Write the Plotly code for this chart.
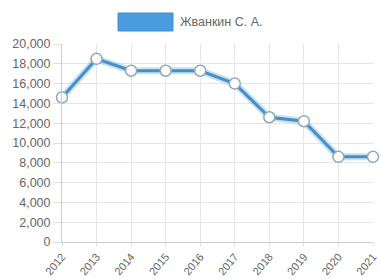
import plotly.graph_objects as go

years = [2012, 2013, 2014, 2015, 2016, 2017, 2018, 2019, 2020, 2021]
values = [14600, 18500, 17300, 17300, 17300, 16000, 12600, 12200, 8600, 8600]
series_name = "Жванкин С. А."
y_ticks = list(range(0, 20001, 2000))

fig = go.Figure()
# soft glow under the line
fig.add_trace(go.Scatter(x=years, y=values, mode="lines",
                         line=dict(color="rgba(120,190,235,0.45)", width=7),
                         hoverinfo="skip", showlegend=False, cliponaxis=False))
fig.add_trace(go.Scatter(x=years, y=values, mode="lines+markers", name=series_name,
                         line=dict(color="#4a8ec2", width=3),
                         marker=dict(size=11, color="white",
                                     line=dict(color="#8fa9b8", width=1.5)),
                         showlegend=False, cliponaxis=False))

font = "Liberation Sans, Arial, sans-serif"
L, R = 62, 7
PW = 380 - L - R
fig.update_layout(
    width=380, height=279,
    margin=dict(l=L, r=R, t=44, b=37),
    paper_bgcolor="white", plot_bgcolor="white",
    font=dict(family=font, size=12, color="#666666"),
    showlegend=False,
)
fig.update_xaxes(
    type="linear", range=[years[0] - 1e-6, years[-1] + 1e-6], tickvals=years,
    ticktext=[str(y) for y in years], tickangle=-50,
    showgrid=True, gridcolor="#e6e6e6", gridwidth=1,
    zeroline=False, showline=True, linecolor="#cccccc",
    ticks="outside", ticklen=3, tickcolor="#e0e0e0",
    ticklabeloverflow="allow",
    tickfont=dict(size=11, color="#666666"), automargin=False,
)
fig.update_yaxes(
    range=[0, 20000], tickvals=y_ticks,
    ticktext=[f"{v:,}" for v in y_ticks],
    showgrid=True, gridcolor="#e6e6e6", gridwidth=1,
    zeroline=False, showline=True, linecolor="#cccccc",
    ticks="outside", ticklen=8, tickcolor="#e0e0e0",
    tickfont=dict(size=12.5, color="#666666"), automargin=False,
)
# legend box + label
fig.add_shape(type="rect", xref="paper", yref="paper",
              x0=(118 - L) / PW, x1=(173 - L) / PW,
              y0=(242 - 31) / 198, y1=(242 - 13) / 198,
              fillcolor="#4a9de0", line=dict(color="#3f8fd0", width=1))
fig.add_annotation(text=series_name, xref="paper", yref="paper",
                   x=(178 - L) / PW, y=(242 - 22) / 198,
                   xanchor="left", yanchor="middle", showarrow=False,
                   font=dict(size=12.5, color="#666666", family=font))

fig.write_html("out.html", config={"displayModeBar": False},
               post_script="document.body.style.margin='0';document.body.style.overflow='hidden';")
